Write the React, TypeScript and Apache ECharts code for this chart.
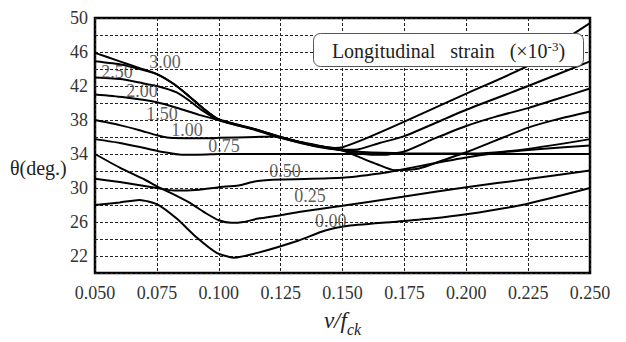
import { useEffect, useRef } from 'react';
import * as echarts from 'echarts';

// Longitudinal strain (x10^-3) of each curve
const strainNames = ['0.00', '0.25', '0.50', '0.75', '1.00', '1.50', '2.00', '2.50', '3.00'];

// [v/fck, theta(deg.)]
const curve000 = [[0.05, 28.0], [0.06, 28.3], [0.068, 28.6], [0.075, 28.1], [0.083, 26.4], [0.091, 24.2], [0.099, 22.4], [0.106, 21.8], [0.116, 22.4], [0.132, 23.8], [0.143, 25.0], [0.151, 25.5], [0.17, 26.0], [0.186, 26.4], [0.2, 26.9], [0.224, 28.1], [0.25, 30.0]];
const curve025 = [[0.05, 34.0], [0.06, 32.4], [0.07, 31.0], [0.075, 30.2], [0.08, 29.5], [0.088, 28.3], [0.095, 27.0], [0.1, 26.2], [0.105, 25.9], [0.11, 26.0], [0.116, 26.4], [0.125, 26.8], [0.133, 27.2], [0.15, 27.9], [0.175, 29.0], [0.2, 30.1], [0.225, 31.05], [0.25, 32.05]];
const curve050 = [[0.05, 31.1], [0.06, 30.7], [0.075, 30.0], [0.082, 29.7], [0.092, 29.8], [0.1, 30.1], [0.108, 30.3], [0.115, 30.8], [0.125, 31.0], [0.15, 31.2], [0.165, 31.7], [0.172, 32.05], [0.185, 32.8], [0.2, 33.6], [0.215, 34.2], [0.23, 34.6], [0.25, 35.0]];
const curve075 = [[0.05, 35.75], [0.06, 35.3], [0.07, 34.7], [0.078, 34.2], [0.085, 33.9], [0.095, 33.95], [0.1, 34.0], [0.15, 34.0], [0.2, 34.0], [0.25, 34.0]];
const curve100 = [[0.05, 38.0], [0.06, 37.4], [0.068, 36.8], [0.075, 36.2], [0.08, 35.9], [0.09, 35.85], [0.1, 35.9], [0.115, 36.0], [0.122, 36.05], [0.13, 35.6], [0.14, 35.0], [0.15, 34.5], [0.16, 34.2], [0.175, 34.1], [0.19, 34.05], [0.2, 34.05], [0.21, 34.15], [0.225, 34.6], [0.25, 35.75]];
const curve150 = [[0.05, 41.0], [0.061, 40.7], [0.075, 40.1], [0.084, 39.35], [0.092, 38.6], [0.1, 38.0], [0.115, 36.9], [0.125, 36.0], [0.133, 35.4], [0.141, 34.9], [0.15, 34.4], [0.157, 33.6], [0.164, 32.8], [0.171, 32.1], [0.181, 32.3], [0.19, 33.2], [0.2, 34.2], [0.212, 35.6], [0.225, 37.1], [0.237, 38.1], [0.25, 39.0]];
const curve200 = [[0.05, 43.0], [0.061, 42.8], [0.068, 42.4], [0.075, 42.0], [0.083, 41.25], [0.088, 40.3], [0.093, 39.2], [0.1, 38.0], [0.115, 36.8], [0.125, 35.9], [0.133, 35.3], [0.141, 34.8], [0.15, 34.4], [0.158, 34.0], [0.166, 33.9], [0.175, 34.3], [0.187, 35.8], [0.2, 37.3], [0.212, 38.4], [0.225, 39.4], [0.237, 40.5], [0.25, 41.7]];
const curve250 = [[0.05, 44.9], [0.061, 44.5], [0.068, 44.0], [0.075, 43.4], [0.082, 42.2], [0.088, 40.8], [0.094, 39.3], [0.1, 38.0], [0.115, 36.85], [0.125, 35.95], [0.133, 35.35], [0.141, 34.85], [0.15, 34.5], [0.155, 34.5], [0.165, 35.3], [0.175, 36.1], [0.2, 39.2], [0.225, 42.0], [0.25, 44.9]];
const curve300 = [[0.05, 45.9], [0.06, 44.9], [0.068, 44.1], [0.075, 43.4], [0.082, 42.2], [0.088, 40.8], [0.094, 39.3], [0.1, 38.1], [0.115, 36.9], [0.125, 36.0], [0.133, 35.4], [0.141, 34.9], [0.147, 34.7], [0.15, 34.8], [0.16, 35.9], [0.175, 37.8], [0.2, 41.1], [0.225, 44.4], [0.24, 47.5], [0.25, 49.4]];

const curves = [curve000, curve025, curve050, curve075, curve100, curve150, curve200, curve250, curve300];

// label anchor of each curve name, [v/fck, theta]
const labelAnchors = [[0.1453, 26.1], [0.1369, 29.1], [0.1268, 32.0], [0.1021, 35.0], [0.0872, 36.8], [0.0771, 38.75], [0.069, 41.4], [0.0589, 43.65], [0.0783, 44.85]];

const xMin = 0.05;
const xMax = 0.25;
const xStep = 0.025;
const yMin = 20;
const yMax = 50;
const yStep = 2;
const yLabelStart = 22;
const yLabelStep = 4;

const FONT = "'Liberation Serif', 'DejaVu Serif', serif";

export default function App() {
  const ref = useRef<HTMLDivElement>(null);
  useEffect(() => {
    document.body.style.margin = '0';
    if (!ref.current) return;
    const chart = echarts.init(ref.current, undefined, { renderer: 'svg' });
    const lineSeries = curves.map((c, i) => ({
      type: 'line',
      name: strainNames[i],
      data: c,
      showSymbol: false,
      symbol: 'none',
      smooth: 0.2,
      lineStyle: { color: '#000', width: 2 },
      z: 3,
    }));
    const labelSeries = {
      type: 'scatter',
      symbolSize: 0,
      data: labelAnchors.map((p, i) => [p[0], p[1], strainNames[i]]),
      label: {
        show: true,
        position: 'inside',
        formatter: (p: any) => '{n|' + p.value[2] + '}',
        rich: { n: { color: '#333', fontFamily: FONT, fontSize: 18 } },
      },
      z: 4,
    };
    chart.setOption({
      animation: false,
      textStyle: { fontFamily: FONT },
      grid: {
        left: 95,
        right: 36,
        top: 18,
        bottom: 61,
        show: true,
        borderColor: '#000',
        borderWidth: 2.5,
        backgroundColor: 'transparent',
      },
      xAxis: {
        type: 'value',
        min: xMin,
        max: xMax,
        interval: xStep,
        axisLine: { show: false },
        axisTick: { show: false },
        splitLine: { show: true, lineStyle: { color: '#222', type: [3, 2], width: 1 } },
        axisLabel: {
          margin: 11,
          formatter: (v: number) => '{n|' + v.toFixed(3) + '}',
          rich: { n: { color: '#333', fontFamily: FONT, fontSize: 18 } },
        },
        name: '{i|v/f}{s|ck}',
        nameLocation: 'middle',
        nameGap: 36,
        nameTextStyle: {
          rich: {
            i: { fontFamily: FONT, fontStyle: 'italic', fontSize: 23, color: '#222', verticalAlign: 'bottom' },
            s: { fontFamily: FONT, fontStyle: 'italic', fontSize: 16, color: '#222', verticalAlign: 'bottom', padding: [0, 0, -5, 0] },
          },
        },
      },
      yAxis: {
        type: 'value',
        min: yMin,
        max: yMax,
        interval: yStep,
        axisLine: { show: false },
        axisTick: { show: false },
        splitLine: { show: true, lineStyle: { color: '#222', type: [3, 2], width: 1 } },
        axisLabel: {
          margin: 7,
          formatter: (v: number) => {
            const r = Math.round(v);
            return r >= yLabelStart && (r - yLabelStart) % yLabelStep === 0 ? '{n|' + r + '}' : '';
          },
          rich: { n: { color: '#333', fontFamily: FONT, fontSize: 18 } },
        },
      },
      graphic: [
        {
          type: 'text',
          left: 10,
          top: 158,
          z: 100,
          style: {
            text: '{n|θ(deg.)}',
            rich: { n: { fontFamily: FONT, fontSize: 20, fill: '#222' } },
          },
        },
        {
          type: 'group',
          left: 313,
          top: 33,
          z: 100,
          children: [
            {
              type: 'rect',
              z: 100,
              shape: { x: 0, y: 0, width: 270, height: 33, r: 7 },
              style: { fill: '#fff', stroke: '#555', lineWidth: 1 },
            },
            {
              type: 'text',
              z: 101,
              x: 135,
              y: 17,
              style: {
                text: '{t|Longitudinal   strain   (×10}{s|-3}{t|)}',
                align: 'center',
                verticalAlign: 'middle',
                rich: {
                  t: { fontFamily: FONT, fontSize: 20, fill: '#222' },
                  s: { fontFamily: FONT, fontSize: 13, fill: '#222', verticalAlign: 'top', padding: [0, 0, 8, 0] },
                },
              },
            },
          ],
        },
      ],
      series: [...lineSeries, labelSeries],
    });
    return () => chart.dispose();
  }, []);
  return <div ref={ref} style={{ width: 626, height: 342 }} />;
}
